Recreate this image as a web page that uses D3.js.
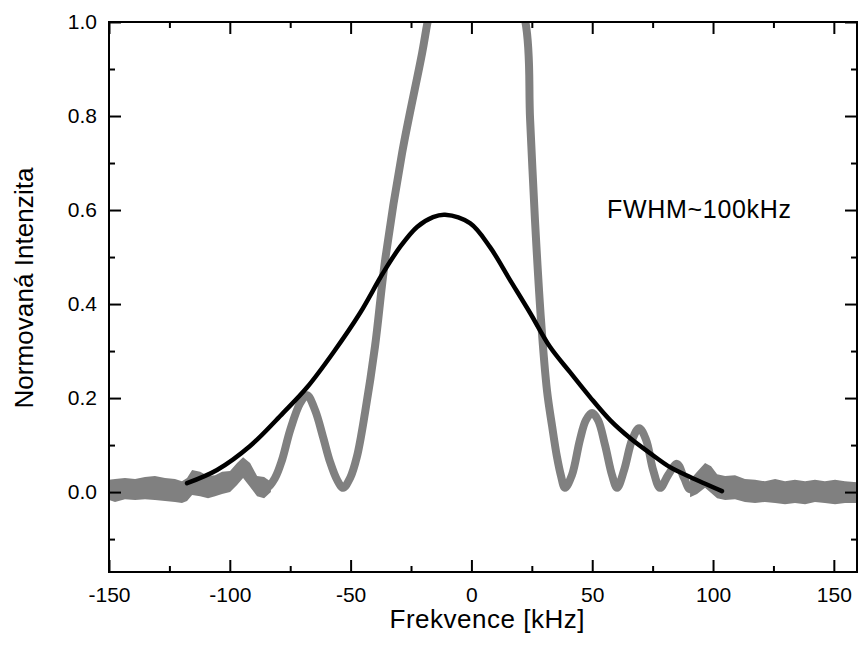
<!DOCTYPE html>
<html>
<head>
<meta charset="utf-8">
<script src="https://cdn.jsdelivr.net/npm/d3@7"></script>
<style>
  body { margin: 0; background: #fff; }
  svg { display: block; font-family: "Liberation Sans", Arial, sans-serif; }
</style>
</head>
<body>
<div id="chart"></div>
<script>
var traceX = [-150, -145, -140, -135, -130, -125, -120, -117.5, -115.5, -112, -106, -100, -97, -94.5, -91.5, -88.7, -84.6,
    -81.3, -78.4, -75.0, -70.9, -68.0, -64.7, -61.4, -58.5, -55.6, -53.1, -50.2, -47.4, -44.0, -39.9, -35.8, -28.7,
    -20.4, -18.0, -12, 0, 12, 22.2, 24.3, 26.3, 28.8, 31.3, 33.4, 35.4, 37.1, 38.7, 41.6, 44.9, 47.4, 49.9, 52.4, 55.3,
    58.2, 60.3, 63.2, 66.5, 69.4, 72.3, 75.2, 78.1, 81.4, 85.1, 88.0, 90.5, 93.4, 96.7, 99.2, 101.7, 105.0, 110, 120,
    130, 140, 150, 160];
var traceY = [0.004, 0.006, 0.006, 0.008, 0.008, 0.005, 0.000, 0.006, 0.021, 0.017, 0.013, 0.022, 0.038, 0.052, 0.036, 0.012, 0.009,
    0.030, 0.068, 0.132, 0.189, 0.206, 0.174, 0.117, 0.064, 0.026, 0.009, 0.030, 0.075, 0.170, 0.310, 0.490, 0.721,
    0.934, 1.004, 1.15, 1.3, 1.15, 1.004, 0.791, 0.579, 0.366, 0.215, 0.140, 0.075, 0.034, 0.009, 0.036, 0.111, 0.153, 0.168, 0.153, 0.100,
    0.036, 0.009, 0.047, 0.111, 0.136, 0.111, 0.047, 0.009, 0.036, 0.060, 0.030, 0.006, 0.021, 0.036, 0.026, 0.013, 0.008, 0.002, 0.000,
    -0.002, 0.000, 0.000, -0.002];

// noise band edges of the trace
var noiseLeftX = [-150, -147.5, -143.4, -139.2, -135.1, -131.0, -126.8, -122.7, -119.8, -117.7, -115.6, -112.3, -109.0,
    -106.1, -103.2, -99.9, -97.0, -94.5, -91.6, -88.7, -85.8, -83.0];
var noiseLeftHi = [0.026, 0.028, 0.030, 0.028, 0.032, 0.034, 0.030, 0.028, 0.023, 0.030, 0.047, 0.043, 0.034,
    0.036, 0.043, 0.045, 0.062, 0.074, 0.062, 0.034, 0.032, 0.022];
var noiseLeftLo = [-0.017, -0.021, -0.015, -0.017, -0.015, -0.017, -0.019, -0.021, -0.023, -0.019, -0.006, -0.009, -0.013,
    -0.009, -0.004, 0.000, 0.015, 0.030, 0.011, -0.009, -0.013, 0.000];
var noiseRightX = [90.5, 93.4, 96.7, 99.2, 101.7, 105.0, 109.1, 113.2, 117.4, 121.5, 125.7, 129.8, 133.9, 138.1, 142.2,
    146.3, 150.5, 154.6, 160];
var noiseRightHi = [0.026, 0.043, 0.062, 0.055, 0.038, 0.034, 0.036, 0.028, 0.026, 0.023, 0.028, 0.023, 0.026, 0.023, 0.026,
    0.023, 0.026, 0.023, 0.021];
var noiseRightLo = [-0.011, -0.004, 0.009, -0.002, -0.013, -0.017, -0.015, -0.021, -0.023, -0.021, -0.023, -0.026, -0.023, -0.026, -0.021,
    -0.023, -0.026, -0.023, -0.023];

// fitted curve (black)
var fitX = [-117.7, -105.3, -91.6, -78.0, -68.0, -57.3, -46.1, -36.6, -29.6, -22.5, -15.9, -10.9, -0.6, 7.7, 16.0, 24.3,
    32.5, 40.8, 49.1, 57.4, 65.6, 73.9, 82.2, 90.5, 103.7];
var fitY = [0.019, 0.047, 0.098, 0.168, 0.223, 0.296, 0.381, 0.466, 0.521, 0.564, 0.585, 0.590, 0.572, 0.521, 0.451, 0.381,
    0.309, 0.255, 0.202, 0.153, 0.115, 0.083, 0.053, 0.032, 0.002];

var xMajor = [-150, -100, -50, 0, 50, 100, 150];
var xMinor = [-125, -75, -25, 25, 75, 125];
var yMajor = [0.0, 0.2, 0.4, 0.6, 0.8, 1.0];
var yMinor = [-0.1, 0.1, 0.3, 0.5, 0.7, 0.9];

var width = 858, height = 648;
var pLeft = 109, pRight = 857, pTop = 22, pBottom = 572;

var svg = d3.select("#chart").append("svg")
    .attr("width", width)
    .attr("height", height);

var x = d3.scaleLinear().domain([-150, 160]).range([pLeft, 858]);
var y = d3.scaleLinear().domain([-0.17, 1.0]).range([pBottom, pTop]);

svg.append("clipPath").attr("id", "clip")
    .append("rect")
    .attr("x", pLeft).attr("y", pTop)
    .attr("width", pRight - pLeft).attr("height", pBottom - pTop);

var plot = svg.append("g").attr("clip-path", "url(#clip)");

var band = d3.area()
    .x(d => x(d[0]))
    .y0(d => y(d[1]))
    .y1(d => y(d[2]));

plot.append("path")
    .datum(noiseLeftX.map((v, i) => [v, noiseLeftLo[i], noiseLeftHi[i]]))
    .attr("d", band)
    .attr("fill", "#808080");

plot.append("path")
    .datum(noiseRightX.map((v, i) => [v, noiseRightLo[i], noiseRightHi[i]]))
    .attr("d", band)
    .attr("fill", "#808080");

var line = d3.line()
    .x(d => x(d[0]))
    .y(d => y(d[1]))
    .curve(d3.curveCatmullRom);

plot.append("path")
    .datum(traceX.map((v, i) => [v, traceY[i]]))
    .attr("d", line)
    .attr("fill", "none")
    .attr("stroke", "#808080")
    .attr("stroke-width", 8)
    .attr("stroke-linejoin", "round");

plot.append("path")
    .datum(fitX.map((v, i) => [v, fitY[i]]))
    .attr("d", line)
    .attr("fill", "none")
    .attr("stroke", "#000")
    .attr("stroke-width", 4.5)
    .attr("stroke-linecap", "round");

// axes, ticks pointing inward on all four sides
function addAxis(axis, tx, ty) {
    var g = svg.append("g")
        .attr("transform", `translate(${tx},${ty})`)
        .call(axis);
    g.select(".domain").remove();
    g.selectAll(".tick line").attr("stroke", "#000").attr("stroke-width", 2);
    g.selectAll("text").attr("font-size", 21).attr("fill", "#000")
        .attr("font-family", '"Liberation Sans", Arial, sans-serif');
    return g;
}

addAxis(d3.axisBottom(x).tickValues(xMajor).tickSize(-12).tickPadding(15).tickFormat(d => String(d)), 0, pBottom);
addAxis(d3.axisBottom(x).tickValues(xMinor).tickSize(-6).tickFormat(""), 0, pBottom);
addAxis(d3.axisTop(x).tickValues(xMajor).tickSize(-12).tickFormat(""), 0, pTop);
addAxis(d3.axisTop(x).tickValues(xMinor).tickSize(-6).tickFormat(""), 0, pTop);
addAxis(d3.axisLeft(y).tickValues(yMajor).tickSize(-12).tickPadding(12).tickFormat(d => d.toFixed(1)), pLeft, 0);
addAxis(d3.axisLeft(y).tickValues(yMinor).tickSize(-6).tickFormat(""), pLeft, 0);
addAxis(d3.axisRight(y).tickValues(yMajor).tickSize(-12).tickFormat(""), pRight, 0);
addAxis(d3.axisRight(y).tickValues(yMinor).tickSize(-6).tickFormat(""), pRight, 0);

svg.append("rect")
    .attr("x", pLeft).attr("y", pTop)
    .attr("width", pRight - pLeft).attr("height", pBottom - pTop)
    .attr("fill", "none")
    .attr("stroke", "#000")
    .attr("stroke-width", 2);

// titles
svg.append("text")
    .attr("x", 487).attr("y", 628)
    .attr("text-anchor", "middle")
    .attr("font-size", 26)
    .attr("textLength", 195)
    .attr("lengthAdjust", "spacing")
    .text("Frekvence [kHz]");

svg.append("text")
    .attr("transform", "translate(33,288) rotate(-90)")
    .attr("text-anchor", "middle")
    .attr("font-size", 26)
    .attr("textLength", 241)
    .attr("lengthAdjust", "spacing")
    .text("Normovaná Intenzita");

svg.append("text")
    .attr("x", 607).attr("y", 218)
    .attr("font-size", 25)
    .attr("textLength", 184)
    .attr("lengthAdjust", "spacing")
    .text("FWHM~100kHz");
</script>
</body>
</html>
